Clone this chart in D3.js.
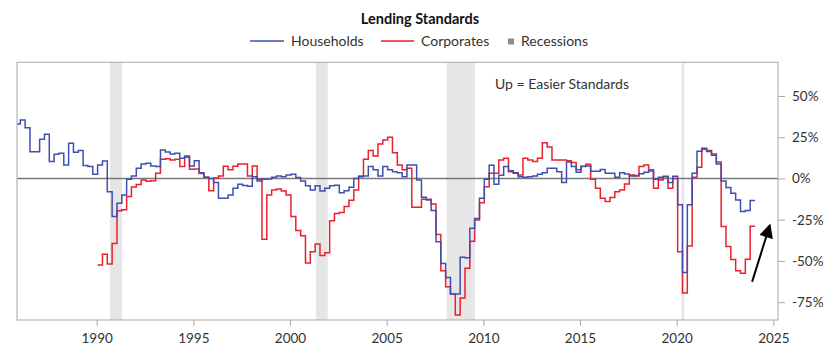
<!DOCTYPE html>
<html><head><meta charset="utf-8">
<script src="https://cdn.jsdelivr.net/npm/d3@7"></script>
<style>
body{margin:0;background:#fff;}
svg{display:block;font-family:Lato,"Open Sans",sans-serif;}
</style>
</head><body>
<svg id="chart" width="840" height="357"></svg>
<script>
// ---- data (net % of banks easing standards, quarterly survey) ----
const householdsStart = 1985.8;   // date of first survey (decimal year)
const households = [
  33, 35.5, 30.8, 16.2, 16.2, 23.7, 26.8, 10.2, 14.7, 15.3,
  8.2, 21.3, 15.9, 16.9, 7.8, 7.2, 2.5, 8.2, 10.6, -8,
  -23, -15, -10, -0.5, 1.5, 6.2, 8.8, 9.2, 7.6, 7.2,
  17.3, 16.1, 14.8, 15.2, 12.2, 13.6, 7.6, 10.8, 3.5, 0.7,
  0, -2.5, -12, -12, -10, -6, -3.5, -4.2, -4.8, 1.1,
  -1.5, -0.5, -0.3, 0.7, 1.5, 1.1, 2.1, 2.5, 0.5, -1.5,
  -4.5, -7, -4.5, -7.6, -6, -4.5, -4.1, -8.6, -7.5, -5.3,
  0, 1.1, 1.5, 7.2, 5.2, 1.5, 7.2, 5.2, 4.1, 3.5,
  1.1, 8.2, 8.2, -0.9, -11.4, -13, -19.5, -38.3, -51.6, -60,
  -70, -70, -47.8, -48, -30.2, -24.3, -12, -0.5, 8, -3.5,
  2, 7.2, 4.7, 3.5, 1.1, 0.7, 1.1, 1.5, 2.5, 3.5,
  6.2, 6.2, 4, -2.5, 10, 7.2, 3.8, 7.4, 7.5, 4.3,
  4.3, 5.4, 3.1, 3.1, 0.7, 3.5, 2.7, 1.5, 1.8, 2.9,
  3.7, 4.5, -0.5, 0.7, 1.3, -2.5, 1.4, -16, -57, -16,
  3.1, 16.5, 18.3, 16.3, 14, 8.8, -1.5, -5.5, -9, -13,
  -20, -19.5, -13.4
];
const corporatesStart = 1990.05;
const corporates = [
  -52.4, -46, -51.8, -39.5, -19.6, -19, -11, -5.2, -3.6, -0.9,
  -1.7, -1.4, 3.1, 11.6, 12, 11.2, 11.6, 7.2, 12.8, 5.6,
  5.7, 3, 0.7, -7.5, 0.3, 1.5, 7.4, 5.2, 7.4, 8.8,
  8.8, 1.5, 7.6, -0.5, -36.8, -10, -7, -6.4, -7.6, -10,
  -23, -31.5, -34.8, -51.2, -44.4, -39.7, -46.7, -45, -25.7, -21.3,
  -20.6, -17, -13.2, -7, 1.5, 11.6, 16.9, 13.6, 20.9, 23.3,
  25, 15.6, 8.2, 5.2, 6.2, -17.5, -17.5, -12.6, -12.6, -15.5,
  -34, -56, -65.6, -70, -82.7, -72.5, -54.4, -38, -25.2, -14.7,
  -5, 3.1, 3.1, 11.2, 12.2, 4.1, 3.1, 2.1, 12.2, 11.2,
  10.2, 12.2, 21.7, 19, 11.2, 11.2, 11.2, 10.8, 9.6, 5.2,
  7.2, 8.6, -0.5, -6, -12, -14, -11.5, -8, -7, -3.3,
  2.1, 1.5, 7.2, 8.2, 5.2, -6, -0.9, 1.1, -6, 0,
  -44.4, -69.4, -41, 0.7, 6.8, 17.7, 17, 14.8, 10, -29.2,
  -41.3, -49.2, -56, -57.5, -49, -29
];
const recessionStarts = [1990.69, 2001.35, 2008.1, 2020.25];
const recessionEnds   = [1991.32, 2001.95, 2009.57, 2020.39];
const xTickValues = [1990, 1995, 2000, 2005, 2010, 2015, 2020, 2025];
const yTickValues = [50, 25, 0, -25, -50, -75];
const arrowFrom = [2023.9, -62.7];
const arrowTo   = [2024.8, -29];

// ---- layout ----
const plot = {left: 17, right: 778, top: 62.3, bottom: 320};
const svg = d3.select("#chart");
const blue = "#3f4fb0", red = "#e8212b", grey = "#e6e6e6";

const x = d3.scaleLinear().domain([1985.88, 2025.24]).range([plot.left, plot.right]);
const y = d3.scaleLinear().domain([-85.8, 70.4]).range([plot.bottom, plot.top]);

const defs = svg.append("defs");
defs.append("clipPath").attr("id", "clip")
  .append("rect").attr("x", plot.left).attr("y", plot.top)
  .attr("width", plot.right - plot.left).attr("height", plot.bottom - plot.top);

// recessions
const rec = recessionStarts.map((s, i) => [s, recessionEnds[i]]);
svg.append("g").attr("clip-path", "url(#clip)")
  .selectAll("rect").data(rec).join("rect")
  .attr("x", d => x(d[0])).attr("width", d => x(d[1]) - x(d[0]))
  .attr("y", plot.top).attr("height", plot.bottom - plot.top)
  .attr("fill", grey);

// zero line
svg.append("line")
  .attr("x1", plot.left).attr("x2", plot.right)
  .attr("y1", y(0)).attr("y2", y(0))
  .attr("stroke", "#7a7a7a").attr("stroke-width", 1.4);

// series
function stepPoints(start, vals) {
  const pts = vals.map((v, i) => [start + i * 0.25, v]);
  pts.push([start + vals.length * 0.25, vals[vals.length - 1]]);
  return pts;
}
const line = d3.line().x(d => x(d[0])).y(d => y(d[1])).curve(d3.curveStepAfter);
const g = svg.append("g").attr("clip-path", "url(#clip)");
g.append("path").datum(stepPoints(corporatesStart, corporates))
  .attr("d", line).attr("fill", "none").attr("stroke", red).attr("stroke-width", 1.5);
g.append("path").datum(stepPoints(householdsStart, households))
  .attr("d", line).attr("fill", "none").attr("stroke", blue).attr("stroke-width", 1.5);

// frame
svg.append("rect").attr("x", plot.left).attr("y", plot.top)
  .attr("width", plot.right - plot.left).attr("height", plot.bottom - plot.top)
  .attr("fill", "none").attr("stroke", "#a8a8a8").attr("stroke-width", 1);

// axes
const fmtPct = d => (d < 0 ? "-" + Math.abs(d) : d) + "%";
const xAxis = svg.append("g").attr("transform", `translate(0,${plot.bottom})`)
  .call(d3.axisBottom(x).tickValues(xTickValues).tickFormat(d3.format("d")).tickSize(6).tickPadding(7));
const yAxis = svg.append("g").attr("transform", `translate(${plot.right},0)`)
  .call(d3.axisRight(y).tickValues(yTickValues).tickFormat(fmtPct).tickSize(7).tickPadding(7));
[xAxis, yAxis].forEach(a => {
  a.select(".domain").remove();
  a.selectAll(".tick line").attr("stroke", "#a8a8a8");
  a.selectAll(".tick text").attr("fill", "#333").style("font-size", "13.5px")
    .style("font-family", 'Lato,"Open Sans",sans-serif');
});

// annotation
svg.append("text").attr("x", 495).attr("y", 89)
  .attr("fill", "#333").style("font-size", "14px").text("Up = Easier Standards");

defs.append("marker").attr("id", "ah")
  .attr("viewBox", "0 0 10 10").attr("refX", 8).attr("refY", 5)
  .attr("markerWidth", 15).attr("markerHeight", 14).attr("markerUnits", "userSpaceOnUse")
  .attr("orient", "auto")
  .append("path").attr("d", "M0,0L10,5L0,10Z").attr("fill", "#000");
svg.append("line")
  .attr("x1", x(arrowFrom[0])).attr("y1", y(arrowFrom[1]))
  .attr("x2", x(arrowTo[0])).attr("y2", y(arrowTo[1]))
  .attr("stroke", "#000").attr("stroke-width", 2)
  .attr("marker-end", "url(#ah)");

// title + legend
svg.append("text").attr("x", 420).attr("y", 24).attr("text-anchor", "middle")
  .attr("fill", "#111").style("font-size", "14.5px").style("font-weight", "bold")
  .text("Lending Standards");
const leg = svg.append("g");
leg.append("line").attr("x1", 250).attr("x2", 284).attr("y1", 41).attr("y2", 41)
  .attr("stroke", blue).attr("stroke-width", 1.5);
leg.append("text").attr("x", 291).attr("y", 45.5).attr("fill", "#333")
  .style("font-size", "14px").text("Households");
leg.append("line").attr("x1", 381).attr("x2", 414).attr("y1", 41).attr("y2", 41)
  .attr("stroke", red).attr("stroke-width", 1.5);
leg.append("text").attr("x", 421).attr("y", 45.5).attr("fill", "#333")
  .style("font-size", "14px").text("Corporates");
leg.append("rect").attr("x", 508).attr("y", 38.5).attr("width", 6).attr("height", 6)
  .attr("fill", "#8c8c8c");
leg.append("text").attr("x", 521).attr("y", 45.5).attr("fill", "#333")
  .style("font-size", "14px").text("Recessions");
</script>
</body></html>
